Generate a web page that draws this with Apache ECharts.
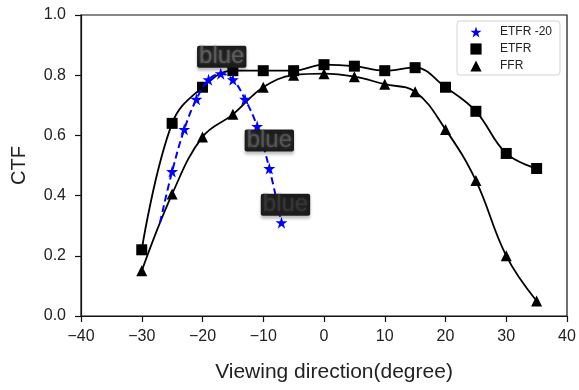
<!DOCTYPE html>
<html>
<head>
<meta charset="utf-8">
<script src="https://cdn.jsdelivr.net/npm/echarts@6/dist/echarts.min.js"></script>
<style>
html, body { margin: 0; padding: 0; background: #fff; }
#container { width: 579px; height: 390px; }
</style>
</head>
<body>
<div id="container"></div>
<script>
// viewing angles (degree) shared by ETFR and FFR
const angles = [-30, -25, -20, -15, -10, -5, 0, 5, 10, 15, 20, 25, 30, 35];
const etfr = [0.22, 0.64, 0.76, 0.815, 0.815, 0.815, 0.835, 0.83, 0.815, 0.825, 0.76, 0.68, 0.54, 0.49];
const ffr = [0.15, 0.405, 0.595, 0.67, 0.76, 0.80, 0.805, 0.795, 0.77, 0.745, 0.62, 0.45, 0.20, 0.05];

// ETFR -20: first point only extends the dashed curve, no marker
const etfr20Angles = [-27, -25, -23, -21, -19, -17, -15, -13, -11, -9, -7];
const etfr20 = [0.31, 0.48, 0.62, 0.72, 0.785, 0.805, 0.785, 0.72, 0.63, 0.49, 0.31];

// the "blue" tags sit on these points of ETFR -20
const noteAngles = [-17, -9, -7];
const noteText = 'blue';

const seriesNames = ['ETFR -20', 'ETFR', 'FFR'];
const xMin = -40, xMax = 40, xStep = 10;
const yMin = 0, yMax = 1, yStep = 0.2;

const FONT = 'Liberation Sans, Arial, sans-serif';

let dom = document.getElementById('container');
let myChart = echarts.init(dom, null, { renderer: 'canvas' });

// look of each tag, in order of noteAngles
const noteLooks = [
    { offset: [1, -17], color: '#5c5c5c' },
    { offset: [0, -28], color: '#555555' },
    { offset: [4, -18], color: '#363636' }
];

let starData = etfr20Angles.map(function (a, i) {
    let item = { value: [a, etfr20[i]] };
    if (i === 0) {
        item.symbol = 'none';
    }
    let k = noteAngles.indexOf(a);
    if (k >= 0) {
        item.label = {
            show: true,
            formatter: noteText,
            position: 'inside',
            offset: noteLooks[k].offset,
            color: noteLooks[k].color,
            fontFamily: FONT,
            fontSize: 24,
            lineHeight: 22,
            backgroundColor: '#1c1c1c',
            borderRadius: 2,
            padding: [0, 2],
            textShadowColor: noteLooks[k].color,
            textShadowBlur: 3,
            shadowColor: 'rgba(0,0,0,0.25)',
            shadowBlur: 3,
            shadowOffsetY: 3
        };
    }
    return item;
});

function pairs(xs, ys) {
    return xs.map(function (x, i) { return [x, ys[i]]; });
}

function minusSign(v) {
    return String(v).replace('-', '\u2212');
}

let option = {
    animation: false,
    backgroundColor: '#fff',
    grid: {
        left: 81, right: 12, top: 15, bottom: 74,
        show: true,
        borderColor: '#111',
        borderWidth: 1.2
    },
    legend: {
        orient: 'vertical',
        left: 457,
        top: 21,
        padding: [5, 8, 3, 4],
        itemWidth: 28,
        itemHeight: 14,
        itemGap: 5,
        borderColor: '#d4d4d4',
        borderWidth: 1,
        borderRadius: 3,
        backgroundColor: '#fff',
        lineStyle: { opacity: 0 },
        textStyle: {
            fontFamily: FONT,
            fontSize: 12,
            color: '#222',
            padding: [0, 0, 0, 5]
        },
        data: seriesNames
    },
    xAxis: {
        type: 'value',
        min: xMin,
        max: xMax,
        interval: xStep,
        name: 'Viewing direction(degree)',
        nameLocation: 'middle',
        nameGap: 46,
        nameTextStyle: { fontFamily: FONT, fontSize: 21, color: '#222', padding: [0, 0, 0, 20] },
        axisLine: { onZero: false, lineStyle: { color: '#111', width: 1.2 } },
        axisTick: { inside: false, length: 6, lineStyle: { color: '#111', width: 1.2 } },
        axisLabel: {
            margin: 13,
            fontFamily: FONT,
            fontSize: 16,
            color: '#222',
            formatter: minusSign
        },
        splitLine: { show: false }
    },
    yAxis: {
        type: 'value',
        min: yMin,
        max: yMax,
        interval: yStep,
        name: 'CTF',
        nameLocation: 'middle',
        nameRotate: 90,
        nameGap: 52,
        nameTextStyle: { fontFamily: FONT, fontSize: 20, color: '#222' },
        axisLine: { onZero: false, lineStyle: { color: '#111', width: 1.2 } },
        axisTick: { inside: false, length: 6, lineStyle: { color: '#111', width: 1.2 } },
        axisLabel: {
            margin: 15,
            fontFamily: FONT,
            fontSize: 16,
            color: '#222',
            formatter: function (v) { return v.toFixed(1); }
        },
        splitLine: { show: false }
    },
    series: [
        {
            name: seriesNames[0],
            type: 'line',
            smooth: 0.4,
            symbol: 'path://M50,0 L61.8,36.2 L100,36.2 L69.1,58.8 L80.9,95.1 L50,72.7 L19.1,95.1 L30.9,58.8 L0,36.2 L38.2,36.2 Z',
            symbolSize: 12,
            itemStyle: { color: '#0000ff' },
            lineStyle: { color: '#0000ff', width: 2, type: [7, 4] },
            z: 3,
            data: starData
        },
        {
            name: seriesNames[1],
            type: 'line',
            smooth: 0.4,
            symbol: 'rect',
            symbolSize: 11,
            itemStyle: { color: '#000' },
            lineStyle: { color: '#000', width: 1.8 },
            z: 2,
            data: pairs(angles, etfr)
        },
        {
            name: seriesNames[2],
            type: 'line',
            smooth: 0.4,
            symbol: 'triangle',
            symbolSize: 11,
            itemStyle: { color: '#000' },
            lineStyle: { color: '#000', width: 1.8 },
            z: 2,
            data: pairs(angles, ffr)
        }
    ]
};

myChart.setOption(option);
</script>
</body>
</html>
